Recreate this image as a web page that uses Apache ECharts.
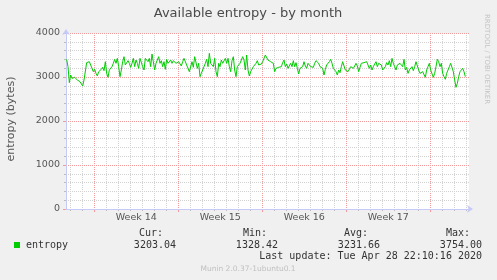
<!DOCTYPE html>
<html>
<head>
<meta charset="utf-8">
<script src="https://cdn.jsdelivr.net/npm/echarts@6/dist/echarts.min.js"></script>
<style>
html,body{margin:0;padding:0;background:#f0f0f0;}
#chart{width:497px;height:280px;}
</style>
</head>
<body>
<div id="chart"></div>
<script>
// ---- data (hours relative to Sun 29 Mar 2020 00:00) ----
const TITLE = 'Available entropy - by month';
const Y_NAME = 'entropy (bytes)';
const X_MIN = -56.67;
const X_MAX = 749.33;
const START_H = -55.33;      // first sample
const STEP_H = 8 / 3;        // sample spacing (hours)
const DAY_TICKS = [-48,-24,24,48,72,96,120,144,192,216,240,264,288,312,360,384,408,432,456,480,528,552,576,600,624,648,696,720,744];
const WEEK_TICKS = [0,168,336,504,672];
const WEEK_LABEL_POS = [84,252,420,588];
const WEEK_LABELS = ['Week 14','Week 15','Week 16','Week 17'];
const Y_MINOR_TICKS = [200,400,600,800,1200,1400,1600,1800,2200,2400,2600,2800,3200,3400,3600,3800];
const Y_MAJOR = 1000;
const Y_MAX = 4000;
const ENTROPY = [
3401,3235,2871,3045,2970,3008,2992,2970,2932,2947,2894,2856,2795,2932,2947,
3326,3295,3348,3273,3311,3121,3174,3083,3023,3121,3144,3174,3220,3144,3348,
3083,2992,3159,3174,3235,3311,3401,3311,3424,3235,3008,3159,3348,3462,3273,
3235,3371,3311,3220,3311,3424,3235,3386,3311,3197,3424,3462,3235,3159,3424,
3462,3348,3424,3235,3523,3348,3159,3311,3348,3462,3311,3371,3235,3348,3174,
3401,3311,3348,3386,3311,3371,3326,3311,3273,3348,3311,3250,3348,3424,3462,
3273,3235,3121,3159,3348,3220,3462,3477,3197,3311,3008,3083,3121,3235,3311,
3401,3235,3538,3311,3348,3235,3424,3121,3008,3311,3235,3386,3311,3311,3424,
3311,3424,3235,3121,3371,3462,3159,3008,3235,3197,3311,3386,3462,3386,3159,
3500,3159,3023,3121,3083,3235,3197,3311,3371,3273,3311,3295,3348,3311,3500,
3477,3386,3424,3348,3386,3311,3121,3197,3235,3220,3197,
3235,3326,3386,3235,3295,3197,3174,3311,3235,3371,3235,3326,3197,3068,3197,
3174,3235,3348,3250,3197,3311,3348,3235,3197,3220,3311,3371,3386,3311,3235,
3250,3197,3045,3174,3273,3235,3348,3401,3311,3197,3235,3121,3045,3159,3098,
3235,3348,3311,3159,3197,3121,3159,3235,3273,3197,3250,3311,3250,3121,3220,
3311,3273,3326,3371,3348,3273,3197,3273,3159,3235,3295,3348,3235,3311,3348,
3273,3159,3121,3235,3326,3273,3371,3235,3424,3311,3235,3159,3273,3235,3311,
3348,3235,3401,3159,3220,3083,3159,3197,3235,3144,3235,3348,3311,3159,3083,
3045,3121,3083,2992,3159,3235,3311,3159,3121,2992,3083,3235,3401,3348,3235,
3311,3083,3008,2947,3083,3159,3235,3311,3348,3121,2932,2765,2856,3008,3121,
3159,3197,3121,3008
];
const LEGEND_NAME = 'entropy';
const STAT_HEADERS = ['Cur:', 'Min:', 'Avg:', 'Max:'];
const STAT_VALUES = ['3203.04', '1328.42', '3231.66', '3754.00'];
const LAST_UPDATE = 'Last update: Tue Apr 28 22:10:16 2020';
const FOOTER = 'Munin 2.0.37-1ubuntu0.1';
const WATERMARK = 'RRDTOOL / TOBI OETIKER';

const seriesData = ENTROPY.map((v, i) => [START_H + i * STEP_H, v]);

const SANS = 'DejaVu Sans';
const MONO = 'DejaVu Sans Mono';
const GRID_GRAY = '#d2d2d2';
const GRID_RED = '#f29a9a';
const AXIS_BLUE = '#c6caf6';

const chart = echarts.init(document.getElementById('chart'), null, {renderer: 'canvas'});

const headerRight = [163, 267, 368, 470];
const valueRight = [176, 278, 380, 482];
const graphics = [];
graphics.push({type: 'text', x: 248, y: 14, style: {text: TITLE, font: '13px "' + SANS + '"', fill: '#4a4a4a', textAlign: 'center', textVerticalAlign: 'middle'}});
graphics.push({type: 'text', x: 11, y: 119, rotation: Math.PI / 2, style: {text: Y_NAME, font: '11px "' + SANS + '"', fill: '#555', textAlign: 'center', textVerticalAlign: 'middle'}});
graphics.push({type: 'text', x: 487, y: 14, rotation: -Math.PI / 2, style: {text: WATERMARK, font: '7px "' + SANS + '"', fill: '#c4c4c4', textAlign: 'left', textVerticalAlign: 'middle'}});
graphics.push({type: 'rect', shape: {x: 14, y: 242, width: 6, height: 6}, style: {fill: '#00cc00'}});
graphics.push({type: 'text', x: 26, y: 245, style: {text: LEGEND_NAME, font: '10px "' + MONO + '"', fill: '#333', textAlign: 'left', textVerticalAlign: 'middle'}});
STAT_HEADERS.forEach((h, i) => {
  graphics.push({type: 'text', x: headerRight[i], y: 233, style: {text: h, font: '10px "' + MONO + '"', fill: '#333', textAlign: 'right', textVerticalAlign: 'middle'}});
  graphics.push({type: 'text', x: valueRight[i], y: 245, style: {text: STAT_VALUES[i], font: '10px "' + MONO + '"', fill: '#333', textAlign: 'right', textVerticalAlign: 'middle'}});
});
graphics.push({type: 'text', x: 482, y: 256, style: {text: LAST_UPDATE, font: '10px "' + MONO + '"', fill: '#333', textAlign: 'right', textVerticalAlign: 'middle'}});
graphics.push({type: 'text', x: 248, y: 269, style: {text: FOOTER, font: '7.5px "' + SANS + '"', fill: '#c0c0c0', textAlign: 'center', textVerticalAlign: 'middle'}});

const option = {
  animation: false,
  backgroundColor: '#f0f0f0',
  grid: {left: 66, right: 28, top: 33, bottom: 71, show: true, backgroundColor: '#ffffff', borderWidth: 0, containLabel: false, outerBoundsMode: 'none'},
  xAxis: [
    {type: 'value', min: X_MIN, max: X_MAX, position: 'bottom', z: 1,
     axisLine: {show: false, onZero: false}, axisLabel: {show: false},
     axisTick: {show: true, length: 2, customValues: DAY_TICKS, lineStyle: {color: '#bbbbbb'}},
     splitLine: {show: true, lineStyle: {color: GRID_GRAY, type: 'dotted', width: 1}}},
    {type: 'value', min: X_MIN, max: X_MAX, position: 'bottom', z: 2,
     axisLine: {show: false, onZero: false}, axisLabel: {show: false},
     axisTick: {show: true, length: 3, customValues: WEEK_TICKS, lineStyle: {color: GRID_RED}},
     splitLine: {show: true, lineStyle: {color: GRID_RED, type: 'dotted', width: 1}}},
    {type: 'value', min: X_MIN, max: X_MAX, position: 'bottom', z: 5,
     axisLine: {show: true, onZero: false, symbol: ['none', 'arrow'], symbolSize: [6, 6], symbolOffset: [0, 4], lineStyle: {color: AXIS_BLUE, width: 1}},
     axisTick: {show: false},
     splitLine: {show: false},
     axisLabel: {show: true, customValues: WEEK_LABEL_POS, margin: 4, color: '#555', fontFamily: SANS, fontSize: 9.5,
       formatter: v => WEEK_LABELS[WEEK_LABEL_POS.indexOf(Math.round(v))] || ''}}
  ],
  yAxis: [
    {type: 'value', min: 0, max: Y_MAX, position: 'left', z: 5,
     axisLine: {show: true, onZero: false, symbol: ['none', 'arrow'], symbolSize: [6, 6], symbolOffset: [0, 4], lineStyle: {color: AXIS_BLUE, width: 1}},
     axisTick: {show: true, length: 2, customValues: Y_MINOR_TICKS, lineStyle: {color: '#bbbbbb'}},
     axisLabel: {show: false},
     splitLine: {show: true, lineStyle: {color: GRID_GRAY, type: 'dotted', width: 1}}},
    {type: 'value', min: 0, max: Y_MAX, interval: Y_MAJOR, position: 'left', z: 2,
     axisLine: {show: false, onZero: false},
     axisTick: {show: true, length: 3, lineStyle: {color: GRID_RED}},
     axisLabel: {show: true, margin: 6, color: '#555', fontFamily: SANS, fontSize: 9.5, formatter: v => String(v)},
     splitLine: {show: true, lineStyle: {color: GRID_RED, type: 'dotted', width: 1}}}
  ],
  series: [{
    type: 'line', name: LEGEND_NAME, xAxisIndex: 0, yAxisIndex: 0, z: 10,
    data: seriesData, showSymbol: false, symbol: 'none',
    lineStyle: {color: '#00cc00', width: 1}
  }],
  graphic: graphics
};
chart.setOption(option);
</script>
</body>
</html>
